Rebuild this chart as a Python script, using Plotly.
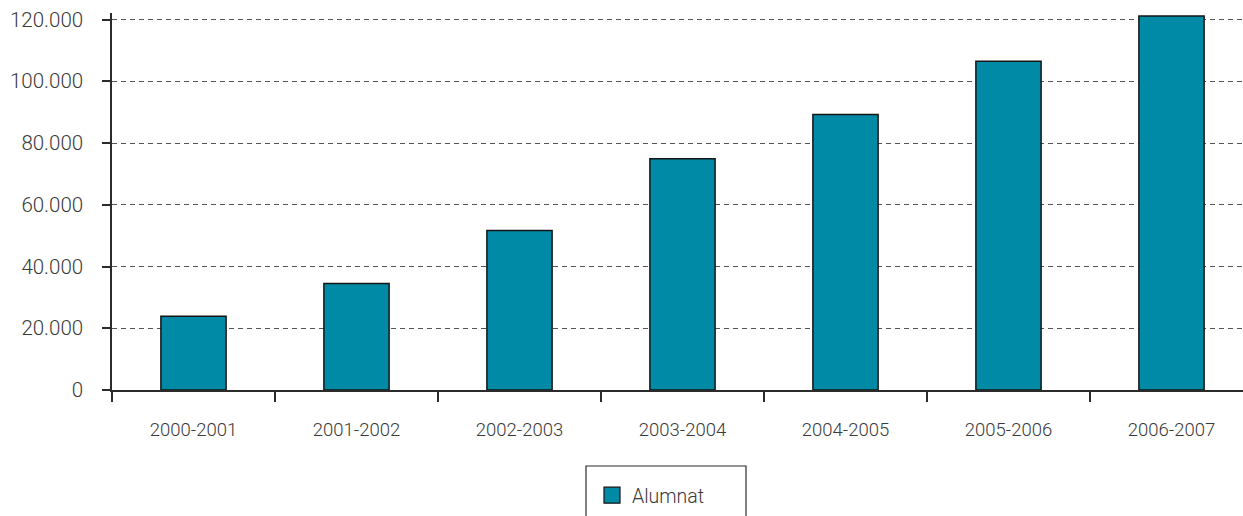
import plotly.graph_objects as go

# Alumnat per curs acadèmic
cursos = ["2000-2001", "2001-2002", "2002-2003", "2003-2004",
          "2004-2005", "2005-2006", "2006-2007"]
alumnat = [23900, 34500, 51700, 74900, 89200, 106500, 121100]

y_ticks = [0, 20000, 40000, 60000, 80000, 100000, 120000]
y_tick_text = ["0", "20.000", "40.000", "60.000", "80.000", "100.000", "120.000"]

serie = "Alumnat"

W, H = 1243, 516
ML, MR, MT, MB = 112, 0, 13, 126
plot_h = H - MT - MB
plot_w = W - ML - MR
px_per_unit = 370.5 / 120000          # vertical scale
y_max = plot_h / px_per_unit
cat_px = 163                          # width of one category
x_max = -0.5 + plot_w / cat_px

BAR = "#008AA6"
TXT = "#3a3a3a"
AXIS = "#2b2b2b"
FONT = "Roboto"

fig = go.Figure()
fig.add_trace(go.Bar(
    x=cursos, y=alumnat, width=0.4,
    marker=dict(color=BAR, line=dict(color="#151515", width=1.5)),
    showlegend=False, cliponaxis=False,
))
# legend entry
fig.add_trace(go.Scatter(
    x=[None], y=[None], mode="markers", name=serie,
    marker=dict(symbol="square", size=19, color=BAR,
                line=dict(color="#151515", width=1.2)),
))

fig.update_layout(
    width=W, height=H,
    margin=dict(l=ML, r=MR, t=MT, b=MB),
    paper_bgcolor="white", plot_bgcolor="white",
    font=dict(family=FONT, color=TXT, size=19, weight=300),
    showlegend=True,
    legend=dict(
        x=(592 - ML) / plot_w, xanchor="left",
        y=-(476 - (MT + plot_h)) / plot_h, yanchor="top",
        bgcolor="rgba(0,0,0,0)", borderwidth=0,
        itemsizing="trace",
        font=dict(family=FONT, size=19.5, color=TXT, weight=300),
    ),
    shapes=[dict(
        type="rect", xref="paper", yref="paper",
        x0=(586 - ML) / plot_w, x1=(746 - ML) / plot_w,
        y0=-(466 - (MT + plot_h)) / plot_h,
        y1=-(540 - (MT + plot_h)) / plot_h,
        line=dict(color=AXIS, width=1.2), fillcolor="rgba(0,0,0,0)",
    )],
)

fig.update_xaxes(
    type="category", range=[-0.5, x_max],
    showgrid=False, zeroline=False,
    showline=True, linecolor=AXIS, linewidth=1.5,
    ticks="outside", tickson="boundaries", ticklen=10,
    tickcolor=AXIS, tickwidth=1.5,
    tickfont=dict(family=FONT, size=18.5, color=TXT, weight=300),
    ticklabelstandoff=22,
)
fig.update_yaxes(
    range=[0, y_max],
    tickvals=y_ticks, ticktext=y_tick_text,
    showgrid=True, gridcolor="#555555", gridwidth=1, griddash="5px,4px",
    zeroline=False,
    showline=True, linecolor=AXIS, linewidth=1.5,
    ticks="outside", ticklen=8, tickcolor=AXIS, tickwidth=1.5,
    tickfont=dict(family=FONT, size=20.5, color=TXT, weight=300),
    ticklabelstandoff=15,
)

fig.write_html("out.html")
